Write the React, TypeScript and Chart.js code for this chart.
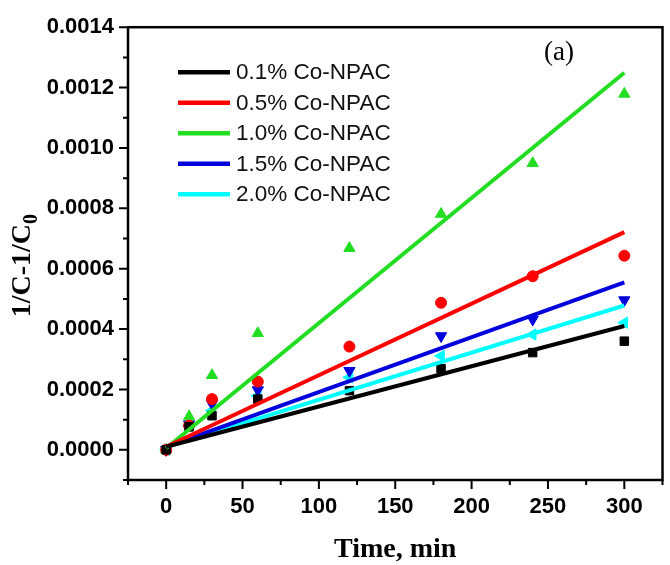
import React, { useEffect, useRef } from 'react';
import { Chart, registerables } from 'chart.js';

Chart.register(...registerables);

// ---- data ----
const timeMin = [0, 15, 30, 60, 120, 180, 240, 300];
const seriesLabels = ['0.1% Co-NPAC', '0.5% Co-NPAC', '1.0% Co-NPAC', '1.5% Co-NPAC', '2.0% Co-NPAC'];
const seriesColors = ['#000000', '#ff0000', '#22dd22', '#0000dd', '#00ffff'];
const seriesMarkers = ['rect', 'circle', 'triangle', 'triangle', 'triangle'];
const markerRotation = [0, 0, 0, 180, 270];
const markerRadius = [6, 5.5, 6.5, 6.5, 6.5];

const co01 = [0, 0.000076, 0.000113, 0.000168, 0.000196, 0.000269, 0.000322, 0.00036];
const co05 = [0, 0.00008, 0.000168, 0.000226, 0.000342, 0.000487, 0.000575, 0.000643];
const co10 = [0, 0.00011, 0.000247, 0.000386, 0.000668, 0.000781, 0.000949, 0.001179];
const co15 = [0, 0.000085, 0.000152, 0.000198, 0.000262, 0.000377, 0.000432, 0.000496];
const co20 = [0, 0.00008, 0.00013, 0.000179, 0.00024, 0.000311, 0.000382, 0.000421];

// linear fit lines: values at the two ends
const fitTime = [0, 300];
const fit01 = [0.00001, 0.00041];
const fit05 = [0.00001, 0.000721];
const fit10 = [0.000005, 0.001249];
const fit15 = [0.00001, 0.000555];
const fit20 = [0.00001, 0.000478];

const xTicks = [0, 50, 100, 150, 200, 250, 300];
const xMinorTicks = [-25, 25, 75, 125, 175, 225, 275, 325];
const yTicks = [0, 0.0002, 0.0004, 0.0006, 0.0008, 0.001, 0.0012, 0.0014];
const yMinorTicks = [-0.0001, 0.0001, 0.0003, 0.0005, 0.0007, 0.0009, 0.0011, 0.0013];

const xAxisTitle = 'Time, min';
const yAxisTitleMain = '1/C-1/C';
const yAxisTitleSub = '0';
const panelLabel = '(a)';

const pointSeries = [co01, co05, co10, co15, co20];
const fitSeries = [fit01, fit05, fit10, fit15, fit20];

const overlayPlugin = {
  id: 'overlay',
  afterDatasetsDraw(chart: any) {
    const { ctx, chartArea, scales } = chart;
    const xs = scales.x;
    const ys = scales.y;
    ctx.save();
    // frame
    ctx.strokeStyle = '#000';
    ctx.lineWidth = 2.5;
    ctx.strokeRect(chartArea.left, chartArea.top, chartArea.right - chartArea.left, chartArea.bottom - chartArea.top);
    // ticks
    ctx.lineWidth = 2;
    ctx.beginPath();
    xTicks.forEach((v) => {
      const px = xs.getPixelForValue(v);
      ctx.moveTo(px, chartArea.bottom);
      ctx.lineTo(px, chartArea.bottom + 9);
    });
    xMinorTicks.forEach((v) => {
      const px = xs.getPixelForValue(v);
      if (px < chartArea.left - 1 || px > chartArea.right + 1) return;
      ctx.moveTo(px, chartArea.bottom);
      ctx.lineTo(px, chartArea.bottom + 5);
    });
    yTicks.forEach((v) => {
      const py = ys.getPixelForValue(v);
      ctx.moveTo(chartArea.left, py);
      ctx.lineTo(chartArea.left - 9, py);
    });
    yMinorTicks.forEach((v) => {
      const py = ys.getPixelForValue(v);
      if (py < chartArea.top - 1 || py > chartArea.bottom + 1) return;
      ctx.moveTo(chartArea.left, py);
      ctx.lineTo(chartArea.left - 5, py);
    });
    ctx.stroke();

    // legend
    const lx0 = chartArea.left + 50;
    const lx1 = lx0 + 52;
    const ly0 = chartArea.top + 45;
    const lstep = 30.5;
    ctx.font = '22.5px "Liberation Sans", Arial, sans-serif';
    ctx.textBaseline = 'middle';
    ctx.textAlign = 'left';
    seriesLabels.forEach((lab, i) => {
      const y = ly0 + i * lstep;
      ctx.strokeStyle = seriesColors[i];
      ctx.lineWidth = 4.5;
      ctx.beginPath();
      ctx.moveTo(lx0, y);
      ctx.lineTo(lx1, y);
      ctx.stroke();
      ctx.fillStyle = '#111';
      ctx.fillText(lab, lx1 + 6, y + 1);
    });

    // panel label
    ctx.font = '27px "Liberation Serif", "Times New Roman", serif';
    ctx.fillStyle = '#000';
    ctx.textAlign = 'center';
    ctx.fillText(panelLabel, 559, 53);

    // x title
    ctx.font = 'bold 28px "Liberation Serif", "Times New Roman", serif';
    ctx.textAlign = 'center';
    ctx.textBaseline = 'alphabetic';
    ctx.fillText(xAxisTitle, (chartArea.left + chartArea.right) / 2, 557);

    // y title with subscript
    ctx.translate(30, (chartArea.top + chartArea.bottom) / 2 + 12);
    ctx.rotate(-Math.PI / 2);
    ctx.font = 'bold 28px "Liberation Serif", "Times New Roman", serif';
    const mainW = ctx.measureText(yAxisTitleMain).width;
    ctx.font = 'bold 20px "Liberation Serif", "Times New Roman", serif';
    const subW = ctx.measureText(yAxisTitleSub).width;
    const total = mainW + subW;
    ctx.textAlign = 'left';
    ctx.font = 'bold 28px "Liberation Serif", "Times New Roman", serif';
    ctx.fillText(yAxisTitleMain, -total / 2, 0);
    ctx.font = 'bold 20px "Liberation Serif", "Times New Roman", serif';
    ctx.fillText(yAxisTitleSub, -total / 2 + mainW, 7);
    ctx.restore();
  },
};

export default function App() {
  const canvasRef = useRef<HTMLCanvasElement | null>(null);

  useEffect(() => {
    const canvas = canvasRef.current;
    if (!canvas) return;
    const datasets: any[] = [];
    fitSeries.forEach((f, i) => {
      datasets.push({
        type: 'line',
        label: seriesLabels[i] + ' fit',
        data: fitTime.map((t, k) => ({ x: t, y: f[k] })),
        borderColor: seriesColors[i],
        borderWidth: 4,
        pointRadius: 0,
        fill: false,
        tension: 0,
      });
    });
    pointSeries.forEach((s, i) => {
      datasets.push({
        type: 'scatter',
        label: seriesLabels[i],
        data: timeMin.map((t, k) => ({ x: t, y: s[k] })),
        backgroundColor: seriesColors[i],
        borderColor: seriesColors[i],
        borderWidth: 1,
        pointStyle: seriesMarkers[i],
        rotation: markerRotation[i],
        pointRadius: markerRadius[i],
        showLine: false,
      });
    });

    const chart = new Chart(canvas, {
      type: 'scatter',
      data: { datasets },
      options: {
        animation: false,
        responsive: false,
        devicePixelRatio: 1,
        layout: { padding: { left: 0, right: 2, top: 25, bottom: 0 } },
        plugins: { legend: { display: false }, tooltip: { enabled: false } },
        scales: {
          x: {
            type: 'linear',
            min: -25,
            max: 325,
            grid: { display: false, drawTicks: false, tickLength: 0 },
            border: { display: false },
            afterFit: (s: any) => { s.height = 85; },
            afterBuildTicks: (s: any) => { s.ticks = xTicks.map((v) => ({ value: v })); },
            ticks: {
              padding: 14,
              color: '#000',
              maxRotation: 0,
              autoSkip: false,
              font: { family: '"Liberation Sans", Arial, sans-serif', size: 22, weight: 'bold' },
              callback: (v: any) => String(v),
            },
          },
          y: {
            type: 'linear',
            min: -0.0001,
            max: 0.0014,
            grid: { display: false, drawTicks: false, tickLength: 0 },
            border: { display: false },
            afterFit: (s: any) => { s.width = 128; },
            afterBuildTicks: (s: any) => { s.ticks = yTicks.map((v) => ({ value: v })); },
            ticks: {
              padding: 14,
              color: '#000',
              autoSkip: false,
              font: { family: '"Liberation Sans", Arial, sans-serif', size: 22, weight: 'bold' },
              callback: (v: any) => Number(v).toFixed(4),
            },
          },
        },
      } as any,
      plugins: [overlayPlugin],
    });
    return () => chart.destroy();
  }, []);

  return (
    <div style={{ position: 'fixed', left: 0, top: 0, width: 670, height: 565, background: '#fff' }}>
      <canvas ref={canvasRef} width={670} height={565} style={{ width: 670, height: 565 }} />
    </div>
  );
}
